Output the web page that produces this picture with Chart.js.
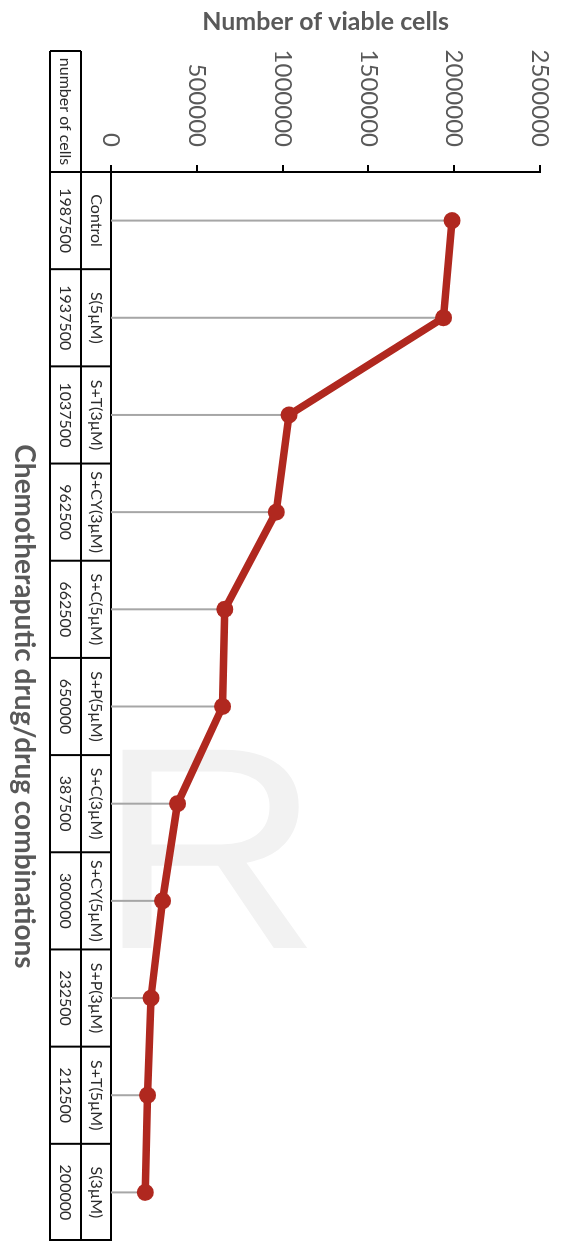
<!DOCTYPE html>
<html>
<head>
<meta charset="utf-8">
<script src="https://cdn.jsdelivr.net/npm/chart.js@4.4.0/dist/chart.umd.min.js"></script>
<style>
  html, body { margin: 0; padding: 0; background: #fff; }
  body { position: relative; width: 561px; height: 1241px; overflow: hidden; }
  /* faint watermark letter that sits behind the chart */
  .mark { position: absolute; left: 97px; top: 704px; font: 288px/288px 'Liberation Sans', Arial, sans-serif; color: #f2f2f2;
          transform-origin: 0 0; transform: scaleX(1.08); }
  /* the chart is drawn landscape, then turned a quarter clockwise */
  .wrap { position: absolute; left: 0; top: 0; width: 1241px; height: 561px; transform-origin: 0 0; transform: translate(561px, 0) rotate(90deg); }
</style>
</head>
<body>
<div class="mark">R</div>
<div class="wrap"><canvas id="chart" width="1241" height="561"></canvas></div>
<script>
const treatments = ['Control', 'S(5µM)', 'S+T(3µM)', 'S+CY(3µM)', 'S+C(5µM)', 'S+P(5µM)',
                    'S+C(3µM)', 'S+CY(5µM)', 'S+P(3µM)', 'S+T(5µM)', 'S(3µM)'];
const cellCounts = [1987500, 1937500, 1037500, 962500, 662500, 650000, 387500, 300000, 232500, 212500, 200000];
const valueTicks = [0, 500000, 1000000, 1500000, 2000000, 2500000];
const rowLabel = 'number of cells';

Chart.defaults.font.family = 'Lato, "Open Sans", sans-serif';

// grey drop lines from each point down to the category axis
const dropLines = {
  id: 'dropLines',
  beforeDatasetsDraw(chart) {
    const ctx = chart.ctx;
    const base = chart.scales.y.getPixelForValue(0);
    ctx.save();
    ctx.strokeStyle = '#a6a6a6';
    ctx.lineWidth = 2;
    chart.getDatasetMeta(0).data.forEach(pt => {
      ctx.beginPath();
      ctx.moveTo(pt.x, base);
      ctx.lineTo(pt.x, pt.y);
      ctx.stroke();
    });
    ctx.restore();
  }
};

// data table under the axis (category row comes from the x ticks)
const dataTable = {
  id: 'dataTable',
  afterDraw(chart) {
    const ctx = chart.ctx;
    const xs = chart.scales.x;
    const top = xs.top, mid = top + 30, bottom = top + 61;
    const left = xs.left, right = xs.right, headLeft = 51;
    const band = (right - left) / treatments.length;
    ctx.save();
    ctx.strokeStyle = '#000';
    ctx.lineWidth = 2;
    ctx.beginPath();
    ctx.moveTo(headLeft, mid); ctx.lineTo(right, mid);
    ctx.moveTo(headLeft, bottom); ctx.lineTo(right, bottom);
    ctx.moveTo(headLeft, mid); ctx.lineTo(headLeft, bottom);
    ctx.moveTo(left, top); ctx.lineTo(left, bottom);
    for (let i = 1; i <= treatments.length; i++) {
      const bx = Math.min(left + i * band, right - 1);
      ctx.moveTo(bx, top); ctx.lineTo(bx, bottom);
    }
    ctx.stroke();
    ctx.fillStyle = '#2b2b2b';
    ctx.font = '16px Lato, "Open Sans", sans-serif';
    ctx.textAlign = 'center';
    ctx.textBaseline = 'middle';
    ctx.fillText(rowLabel, (headLeft + left) / 2, (mid + bottom) / 2);
    cellCounts.forEach((v, i) => ctx.fillText(String(v), xs.getPixelForValue(i), (mid + bottom) / 2));
    ctx.restore();
  }
};

new Chart(document.getElementById('chart'), {
  type: 'line',
  data: {
    labels: treatments,
    datasets: [{
      data: cellCounts,
      borderColor: '#b0281f',
      backgroundColor: '#b0281f',
      borderWidth: 7.5,
      pointRadius: 8.5,
      pointBorderWidth: 0,
      pointBackgroundColor: '#b0281f',
      tension: 0
    }]
  },
  options: {
    responsive: false,
    animation: false,
    layout: { autoPadding: false, padding: { top: 21, right: 0, bottom: 0, left: 0 } },
    plugins: { legend: { display: false }, tooltip: { enabled: false } },
    scales: {
      x: {
        offset: true,
        grid: { display: false, drawTicks: false },
        border: { display: true, color: '#000', width: 2 },
        ticks: { color: '#2b2b2b', font: { size: 16 }, padding: 5, autoSkip: false, maxRotation: 0 },
        title: {
          display: true,
          text: 'Chemotheraputic drug/drug combinations',
          color: '#595959',
          font: { size: 28, weight: 'bold' },
          padding: { top: 0, bottom: 7 }
        },
        afterFit: s => { s.height = 111; s.paddingLeft = 0; s.paddingRight = 0; }
      },
      y: {
        min: 0,
        max: 2500000,
        afterBuildTicks: s => { s.ticks = valueTicks.map(v => ({ value: v })); },
        grid: { drawOnChartArea: false, drawTicks: true, tickLength: 7, color: '#000', lineWidth: 2 },
        border: { display: true, color: '#000', width: 2 },
        ticks: { color: '#595959', font: { size: 24 }, padding: 18, callback: v => String(v) },
        title: {
          display: true,
          text: 'Number of viable cells',
          color: '#595959',
          font: { size: 25, weight: 'bold' },
          padding: { top: 7, bottom: 0 }
        },
        afterFit: s => { s.width = 172; s.paddingTop = 0; s.paddingBottom = 0; }
      }
    }
  },
  plugins: [dropLines, dataTable]
});
</script>
</body>
</html>
